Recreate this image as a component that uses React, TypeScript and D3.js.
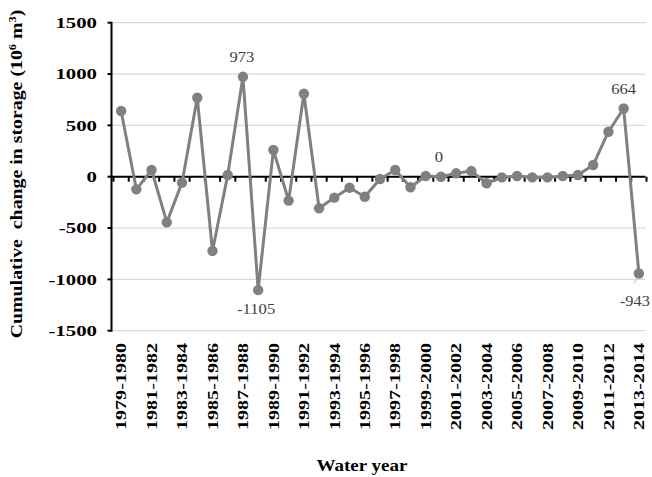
import React from "react";
import * as d3 from "d3";

const years: string[] = [
  "1979-1980","1980-1981","1981-1982","1982-1983","1983-1984","1984-1985","1985-1986",
  "1986-1987","1987-1988","1988-1989","1989-1990","1990-1991","1991-1992","1992-1993",
  "1993-1994","1994-1995","1995-1996","1996-1997","1997-1998","1998-1999","1999-2000",
  "2000-2001","2001-2002","2002-2003","2003-2004","2004-2005","2005-2006","2006-2007",
  "2007-2008","2008-2009","2009-2010","2010-2011","2011-2012","2012-2013","2013-2014",
];
const storage: number[] = [
  640, -123, 65, -444, -58, 769, -723, 17, 973, -1105, 260, -233, 808, -308,
  -204, -107, -195, -22, 65, -103, 7, 0, 33, 55, -64, -7, 7, -7, -7, 7,
  17, 114, 438, 664, -943,
];
const yTicks: number[] = [-1500, -1000, -500, 0, 500, 1000, 1500];
const labelled: { idx: number; text: string; dx: number; dy: number }[] = [
  { idx: 8, text: "973", dx: -1, dy: -15 },
  { idx: 9, text: "-1105", dx: -2, dy: 24 },
  { idx: 21, text: "0", dx: -2, dy: -15 },
  { idx: 33, text: "664", dx: 0, dy: -15 },
  { idx: 34, text: "-943", dx: -4, dy: 32 },
];

const W = 652, H = 477;
const left = 111.5, right = 645.5, top = 22.7, bottom = 330.7;
const serif = "'Liberation Serif', 'Times New Roman', serif";

function tickLen(s: string, digit: number, hy: number) {
  let n = 0;
  for (const c of s) n += c === "-" ? hy : digit;
  return n;
}

export default function App() {
  const x = d3.scaleBand<string>().domain(years).range([left + 2, right + 1]).padding(0);
  const y = d3.scaleLinear().domain([-1500, 1500]).range([bottom, top]);
  const cx = (i: number) => (x(years[i]) as number) + x.bandwidth() / 2;
  const line = d3
    .line<number>()
    .x((_, i) => cx(i))
    .y((d) => y(d));
  const y0 = y(0);
  const boundaries = d3.range(years.length + 1).map((k) => left + 2 + k * x.bandwidth());

  return (
    <svg width={W} height={H} style={{ display: "block", position: "absolute", left: 0, top: 0 }}>
      <rect x={0} y={0} width={W} height={H} fill="#fff" />
      {/* gridlines */}
      {yTicks.map((t) => (
        <line key={"g" + t} x1={left} x2={right} y1={y(t)} y2={y(t)} stroke="#d9d9d9" strokeWidth={1.2} />
      ))}
      {/* y axis */}
      <line x1={left} x2={left} y1={top - 1} y2={bottom + 1} stroke="#000" strokeWidth={2} />
      {yTicks.map((t) => (
        <line key={"yt" + t} x1={left - 4} x2={left} y1={y(t)} y2={y(t)} stroke="#000" strokeWidth={2} />
      ))}
      {yTicks.map((t) => (
        <text
          key={"yl" + t}
          x={97}
          y={y(t)}
          dy="0.35em"
          textAnchor="end"
          fontFamily={serif}
          fontWeight="bold"
          fontSize={15}
          textLength={tickLen(String(t), 10.4, 7)}
          lengthAdjust="spacingAndGlyphs"
        >
          {t}
        </text>
      ))}
      {/* x axis at zero */}
      <line x1={left} x2={right} y1={y0} y2={y0} stroke="#000" strokeWidth={2} />
      {boundaries.map((b, k) => (
        <line key={"xt" + k} x1={b} x2={b} y1={y0} y2={y0 + 5} stroke="#000" strokeWidth={2} />
      ))}
      {/* x labels */}
      {years.map((yr, i) =>
        i % 2 === 0 ? (
          <text
            key={"xl" + i}
            transform={`translate(${cx(i)},343) rotate(-90)`}
            dy="0.35em"
            textAnchor="end"
            fontFamily={serif}
            fontWeight="bold"
            fontSize={15}
            textLength={87}
            lengthAdjust="spacingAndGlyphs"
          >
            {yr}
          </text>
        ) : null
      )}
      {/* series */}
      <path d={line(storage) || ""} fill="none" stroke="#808080" strokeWidth={3} strokeLinejoin="round" />
      {storage.map((v, i) => (
        <circle key={"p" + i} cx={cx(i)} cy={y(v)} r={5.2} fill="#808080" />
      ))}
      {/* leader line for -943 */}
      <line
        x1={cx(34) - 5}
        y1={y(storage[34]) + 10}
        x2={cx(34) - 1}
        y2={y(storage[34]) + 4}
        stroke="#bfbfbf"
        strokeWidth={1}
      />
      {/* data labels */}
      {labelled.map((l) => (
        <text
          key={"dl" + l.idx}
          x={cx(l.idx) + l.dx}
          y={y(storage[l.idx]) + l.dy}
          textAnchor="middle"
          fontFamily={serif}
          fontSize={14}
          fill="#404040"
          textLength={tickLen(l.text, 8.3, 5)}
          lengthAdjust="spacingAndGlyphs"
        >
          {l.text}
        </text>
      ))}
      {/* axis titles */}
      <text
        x={362}
        y={471}
        textAnchor="middle"
        fontFamily={serif}
        fontWeight="bold"
        fontSize={16}
        textLength={91}
        lengthAdjust="spacingAndGlyphs"
      >
        Water year
      </text>
      <g transform="translate(22,174) rotate(-90) scale(1.24,1)">
        <text x={0} y={0} textAnchor="middle" fontFamily={serif} fontWeight="bold" fontSize={16} style={{ whiteSpace: "pre" }}>
          {"Cumulative  change in storage (10"}
          <tspan fontSize={10} dy={-6}>6</tspan>
          <tspan dy={6}> m</tspan>
          <tspan fontSize={10} dy={-6}>3</tspan>
          <tspan dy={6}>)</tspan>
        </text>
      </g>
    </svg>
  );
}
